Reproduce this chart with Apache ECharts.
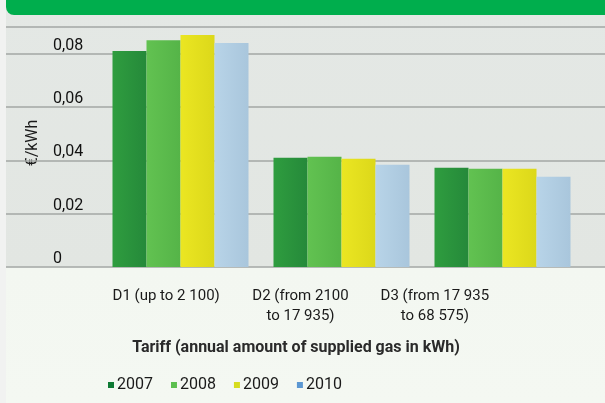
<!DOCTYPE html>
<html><head><meta charset="utf-8">
<script src="https://cdn.jsdelivr.net/npm/echarts@6/dist/echarts.min.js"></script>
<style>html,body{margin:0;padding:0;background:#e6eae7}#c{width:605px;height:403px}</style>
</head><body><div id="c"></div>
<script>
const categories = ['D1 (up to 2 100)', 'D2 (from 2100\nto 17 935)', 'D3 (from 17 935\nto 68 575)'];
const years = ['2007', '2008', '2009', '2010'];
const v2007 = [0.081, 0.041, 0.0372];
const v2008 = [0.085, 0.0413, 0.0368];
const v2009 = [0.087, 0.0406, 0.0368];
const v2010 = [0.084, 0.0383, 0.0338];
const yTicks = [0, 0.02, 0.04, 0.06, 0.08];
const yName = '€/kWh';
const xName = 'Tariff (annual amount of supplied gas in kWh)';

const barColors = [['#2f9d3f', '#25893a'], ['#62c251', '#55b448'], ['#ebe622', '#dcd81a'], ['#b8d4e8', '#a9c6dc']];
const legendColors = ['#0e7a34', '#5cbf4f', '#d6dc1e', '#5b97d2'];
const values = [v2007, v2008, v2009, v2010];
const FONT = "Roboto, sans-serif";

const chart = echarts.init(document.getElementById('c'));
const gTop = 27, gBottom = 136;
chart.setOption({
  backgroundColor: {
    type: 'linear', x: 0, y: 0, x2: 0, y2: 1,
    colorStops: [{offset: 0, color: '#e4e8e5'}, {offset: 0.66, color: '#e2e6e2'}, {offset: 0.665, color: '#f3f7f1'}, {offset: 1, color: '#f4f8f2'}]
  },
  animation: false,
  textStyle: {fontFamily: FONT},
  graphic: [
    {type: 'rect', shape: {x: 0, y: 0, width: 6, height: 403}, style: {fill: '#f1f2f1'}, z: 0},
    {type: 'rect', shape: {x: 6, y: -10, width: 610, height: 25, r: [0, 0, 0, 8]}, style: {fill: '#00ae4d'}, z: 10},
    {type: 'text', x: 33, y: 143, rotation: Math.PI / 2,
      style: {text: yName, fontSize: 16, fontFamily: FONT, fill: '#1a1a1a', align: 'center', verticalAlign: 'middle'}},
    {type: 'text', x: 296, y: 348,
      style: {text: xName, fontSize: 16, fontWeight: 'bold', fontFamily: FONT, fill: '#2a2a2a', align: 'center', verticalAlign: 'middle'}}
  ],
  legend: {
    left: 103, top: 372, icon: 'rect', itemWidth: 6, itemHeight: 6, itemGap: 18,
    textStyle: {fontSize: 16, color: '#1a1a1a', fontFamily: FONT, padding: [0, 0, 0, -2]},
    data: years.map((y, i) => ({name: y, itemStyle: {color: legendColors[i]}}))
  },
  grid: [
    {left: 6, right: 0, top: gTop, bottom: gBottom},
    {left: 100, right: 22, top: gTop, bottom: gBottom},
    {left: 99, right: 103, top: gTop, bottom: gBottom}
  ],
  xAxis: [
    {gridIndex: 0, type: 'category', data: categories, show: false},
    {gridIndex: 1, type: 'category', data: categories, show: false},
    {gridIndex: 2, type: 'category', data: categories, axisLine: {show: false}, axisTick: {show: false},
      axisLabel: {interval: 0, margin: 19, fontSize: 15, color: '#1a1a1a', lineHeight: 20, fontFamily: FONT}}
  ],
  yAxis: [
    {gridIndex: 0, type: 'value', min: 0, max: 0.09, interval: 0.02,
      axisLine: {show: false}, axisTick: {show: false},
      splitLine: {lineStyle: {color: '#a3a7a4', width: 1.5}},
      axisLabel: {inside: true, margin: 47, align: 'left', verticalAlign: 'bottom', padding: [0, 0, 0, 0],
        fontSize: 16, color: '#111', fontFamily: FONT,
        formatter: v => yTicks.includes(Math.round(v * 100) / 100) ? (v === 0 ? '0' : v.toFixed(2).replace('.', ',')) : ''}},
    {gridIndex: 1, type: 'value', min: 0, max: 0.09, interval: 0.02, show: false, splitLine: {show: false}},
    {gridIndex: 2, type: 'value', min: 0, max: 0.09, interval: 0.02, show: false, splitLine: {show: false}}
  ],
  series: years.map((y, i) => ({
    name: y, type: 'bar', xAxisIndex: 1, yAxisIndex: 1,
    barWidth: 34, barGap: '0%',
    itemStyle: {color: {type: 'linear', x: 0, y: 0, x2: 1, y2: 0,
      colorStops: [{offset: 0, color: barColors[i][0]}, {offset: 1, color: barColors[i][1]}]}},
    data: values[i]
  }))
});
</script></body></html>
